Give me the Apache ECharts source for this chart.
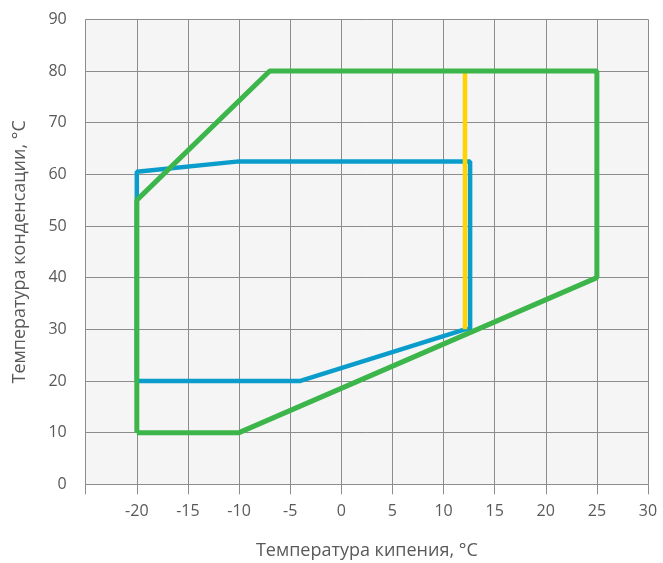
<!DOCTYPE html>
<html>
<head>
<meta charset="utf-8">
<script src="https://cdn.jsdelivr.net/npm/echarts@6/dist/echarts.min.js"></script>
<style>
html,body{margin:0;padding:0;background:#fff;}
#c{width:663px;height:563px;}
</style>
</head>
<body>
<div id="c"></div>
<script>
var xTicks = [-25, -20, -15, -10, -5, 0, 5, 10, 15, 20, 25, 30];
var yTicks = [0, 10, 20, 30, 40, 50, 60, 70, 80, 90];
var greenLine = [[-20,10],[-10,10],[25,40],[25,80],[-7,80],[-20,55],[-20,10]];
var blueLine = [[-20,20],[-4,20],[12.1,30],[12.6,30],[12.6,62.5],[-10,62.5],[-20,60.5],[-20,20]];
var yellowLine = [[12.1,30],[12.1,80]];
var xName = 'Температура кипения, °C';
var yName = 'Температура конденсации, °C';

var chart = echarts.init(document.getElementById('c'));
var font = '"Open Sans", "Noto Sans", sans-serif';
var gridColor = '#8c8c8c';
var textColor = '#595959';
chart.setOption({
  animation: false,
  grid: {left: 85.7, right: 15, top: 19.3, bottom: 78.7, show: true, backgroundColor: '#f5f5f5', borderWidth: 0,
         containLabel: false, outerBoundsMode: 'none'},
  xAxis: {
    type: 'value', min: xTicks[0], max: xTicks[xTicks.length-1], interval: 5,
    name: xName, nameLocation: 'middle', nameGap: 57.5,
    nameTextStyle: {color: textColor, fontSize: 18, fontFamily: font},
    axisLine: {show: true, lineStyle: {color: gridColor, width: 1}},
    axisTick: {show: true, inside: false, length: 10, lineStyle: {color: gridColor}},
    axisLabel: {color: textColor, fontSize: 16, fontFamily: font, margin: 19.5,
      formatter: function(v){ return v === xTicks[0] ? '' : String(v); }},
    splitLine: {show: true, lineStyle: {color: gridColor, width: 1}}
  },
  yAxis: {
    type: 'value', min: yTicks[0], max: yTicks[yTicks.length-1], interval: 10,
    name: yName, nameLocation: 'middle', nameGap: 56.5, nameRotate: 90,
    nameTextStyle: {color: textColor, fontSize: 18, fontFamily: font},
    axisLine: {show: true, lineStyle: {color: gridColor, width: 1}},
    axisTick: {show: true, inside: false, length: 12, lineStyle: {color: gridColor}},
    axisLabel: {color: textColor, fontSize: 16, fontFamily: font, margin: 19},
    splitLine: {show: true, lineStyle: {color: gridColor, width: 1}}
  },
  series: [
    {type: 'line', data: blueLine, showSymbol: false, symbol: 'none', lineStyle: {color: '#0a9dcc', width: 4.5}, z: 2},
    {type: 'line', data: yellowLine, showSymbol: false, symbol: 'none', lineStyle: {color: '#ffd400', width: 4.5}, z: 3},
    {type: 'line', data: greenLine, showSymbol: false, symbol: 'none', lineStyle: {color: '#3cb54a', width: 5}, z: 4}
  ]
});
</script>
</body>
</html>
